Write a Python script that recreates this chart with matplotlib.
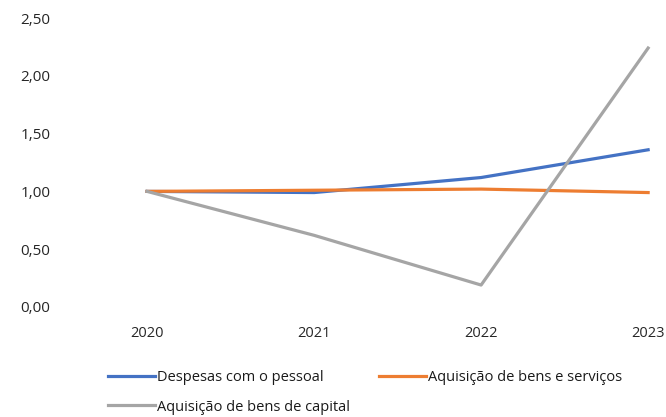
import matplotlib
matplotlib.use("Agg")
import matplotlib.pyplot as plt
from matplotlib.ticker import FuncFormatter

years = ["2020", "2021", "2022", "2023"]
pessoal = [1.00, 0.99, 1.12, 1.36]
bens_servicos = [1.00, 1.01, 1.02, 0.99]
bens_capital = [1.00, 0.62, 0.19, 2.24]
yticks = [0.0, 0.5, 1.0, 1.5, 2.0, 2.5]

plt.rcParams['font.family'] = ['Open Sans', 'DejaVu Sans']

fig = plt.figure(figsize=(6.66, 4.17), dpi=100)
ax = fig.add_axes([110/666, 110/417, 556/666, 289/417])
x = list(range(len(years)))
l1, = ax.plot(x, pessoal, color="#4472C4", lw=2.3, label="Despesas com o pessoal")
l2, = ax.plot(x, bens_servicos, color="#ED7D31", lw=2.3, label="Aquisição de bens e serviços")
l3, = ax.plot(x, bens_capital, color="#A5A5A5", lw=2.3, label="Aquisição de bens de capital")

ax.set_xlim(-0.222, 3.107)
ax.set_ylim(0, 2.5)
ax.set_xticks(x)
ax.set_xticklabels(years)
ax.set_yticks(yticks)
ax.yaxis.set_major_formatter(FuncFormatter(lambda v, p: f"{v:.2f}".replace(".", ",")))
for s in ax.spines.values():
    s.set_visible(False)
ax.tick_params(axis='y', length=0, pad=43, labelsize=11, colors="#262626")
ax.tick_params(axis='x', length=0, pad=14, labelsize=10.5, colors="#262626")

fig.legend(handles=[l1, l3, l2], labels=[l1.get_label(), l3.get_label(), l2.get_label()],
           ncol=2, loc="upper left", bbox_to_anchor=(108/666, 1 - 370/417),
           frameon=False, fontsize=10.5, handlelength=3.2, handletextpad=0.15,
           columnspacing=2.0, labelspacing=1.0, borderaxespad=0, borderpad=0,
           labelcolor="#1a1a1a")

fig.savefig("out.png", dpi=100)
